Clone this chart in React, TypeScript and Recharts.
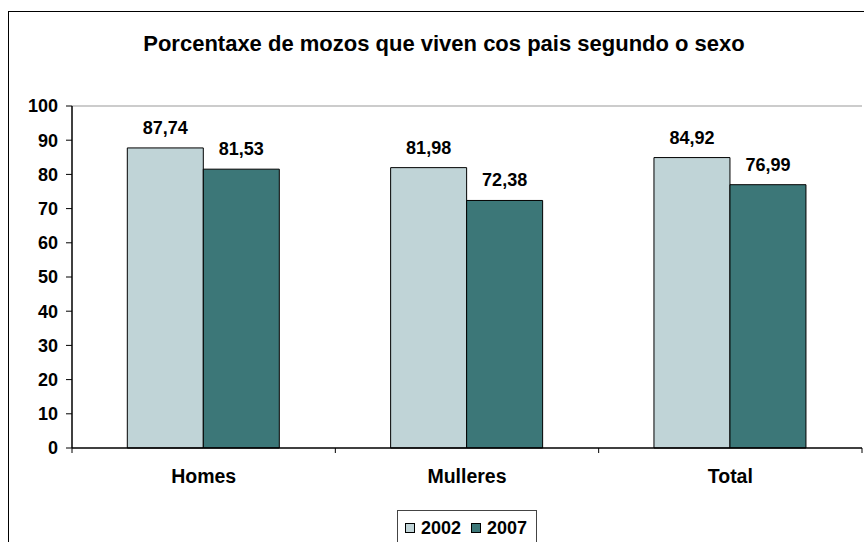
import { BarChart, Bar, XAxis, YAxis, LabelList, Legend, ReferenceLine } from 'recharts';

const categories = ['Homes', 'Mulleres', 'Total'];
const values2002 = [87.74, 81.98, 84.92];
const values2007 = [81.53, 72.38, 76.99];
const seriesNames = ['2002', '2007'];
const seriesColors = ['#C0D4D7', '#3C7778'];
const yTicks = [0, 10, 20, 30, 40, 50, 60, 70, 80, 90, 100];

const FONT = '"Liberation Sans", Arial, sans-serif';
const CAT_TICK_MARGIN = 21;

const data = categories.map((name, i) => ({
  name,
  v2002: values2002[i],
  v2007: values2007[i],
}));

const fmt = (v: any) => Number(v).toFixed(2).replace('.', ',');

const labelStyle = { fill: '#000', fontSize: 18, fontWeight: 'bold', fontFamily: FONT };

// category label plus the small tick marks between categories
function CatTick(props: any) {
  const { x, y, payload, index, visibleTicksCount, width } = props;
  const half = payload && payload.offset ? payload.offset : width / visibleTicksCount / 2;
  const axisY = y - CAT_TICK_MARGIN;
  return (
    <g>
      <text
        x={x}
        y={y}
        dy="0.71em"
        textAnchor="middle"
        fill="#000"
        fontSize={19.5}
        fontWeight="bold"
        fontFamily={FONT}
      >
        {payload.value}
      </text>
      <line x1={x + half} x2={x + half} y1={axisY} y2={axisY + 5} stroke="#000" />
      {index === 0 && <line x1={x - half} x2={x - half} y1={axisY} y2={axisY + 5} stroke="#000" />}
    </g>
  );
}

function LegendBox() {
  return (
    <div
      style={{
        boxSizing: 'border-box',
        width: 140,
        height: 36,
        border: '1px solid #444',
        background: '#fff',
        display: 'flex',
        alignItems: 'center',
        paddingLeft: 7,
        fontFamily: FONT,
        fontWeight: 'bold',
        fontSize: 18,
        color: '#000',
      }}
    >
      {seriesNames.map((s, i) => (
        <span key={s} style={{ display: 'flex', alignItems: 'center', marginRight: i === 0 ? 10 : 0 }}>
          <span
            style={{
              display: 'inline-block',
              boxSizing: 'border-box',
              width: 10,
              height: 10,
              background: seriesColors[i],
              border: '1px solid #000',
              marginRight: 6,
            }}
          />
          {s}
        </span>
      ))}
    </div>
  );
}

export default function App() {
  return (
    <div style={{ position: 'absolute', left: 0, top: 0, width: 864, height: 542, overflow: 'hidden', background: '#fff' }}>
      <div
        style={{
          position: 'absolute',
          left: 8,
          top: 11,
          width: 880,
          height: 600,
          border: '1.5px solid #000',
        }}
      />
      <div
        style={{
          position: 'absolute',
          left: 0,
          top: 31,
          width: 888,
          textAlign: 'center',
          fontFamily: FONT,
          fontWeight: 'bold',
          fontSize: 22,
          lineHeight: 'normal',
          color: '#000',
        }}
      >
        Porcentaxe de mozos que viven cos pais segundo o sexo
      </div>
      <div style={{ position: 'absolute', left: 0, top: 0 }}>
        <BarChart
          width={864}
          height={542}
          data={data}
          margin={{ top: 106, right: 2, left: 0, bottom: 0 }}
          barCategoryGap="21%"
          barGap={0}
        >
          <XAxis
            xAxisId="cat"
            dataKey="name"
            height={94}
            axisLine={{ stroke: '#000', strokeWidth: 1.5 }}
            tickLine={false}
            tickSize={0}
            tickMargin={CAT_TICK_MARGIN}
            tick={<CatTick />}
          />
          <YAxis
            yAxisId="left"
            domain={[0, 100]}
            ticks={yTicks}
            width={72}
            tickSize={6}
            tickMargin={8}
            axisLine={{ stroke: '#000', strokeWidth: 1.5 }}
            tickLine={{ stroke: '#000' }}
            tick={{ fill: '#000', fontSize: 18, fontWeight: 'bold', fontFamily: FONT }}
          />
          <YAxis yAxisId="right" orientation="right" domain={[0, 100]} width={0} tick={false} tickLine={false} axisLine={{ stroke: '#999' }} />
          <ReferenceLine xAxisId="cat" yAxisId="left" y={100} stroke="#999" />
          <Legend
            layout="horizontal"
            verticalAlign="middle"
            align="center"
            wrapperStyle={{ top: 510, left: 397, width: 140, height: 36 }}
            content={() => <LegendBox />}
          />
          <Bar xAxisId="cat" yAxisId="left" dataKey="v2002" name={seriesNames[0]} fill={seriesColors[0]} stroke="#000" strokeWidth={1} isAnimationActive={false}>
            <LabelList dataKey="v2002" position="top" offset={14} formatter={fmt} style={labelStyle} />
          </Bar>
          <Bar xAxisId="cat" yAxisId="left" dataKey="v2007" name={seriesNames[1]} fill={seriesColors[1]} stroke="#000" strokeWidth={1} isAnimationActive={false}>
            <LabelList dataKey="v2007" position="top" offset={14} formatter={fmt} style={labelStyle} />
          </Bar>
        </BarChart>
      </div>
    </div>
  );
}
